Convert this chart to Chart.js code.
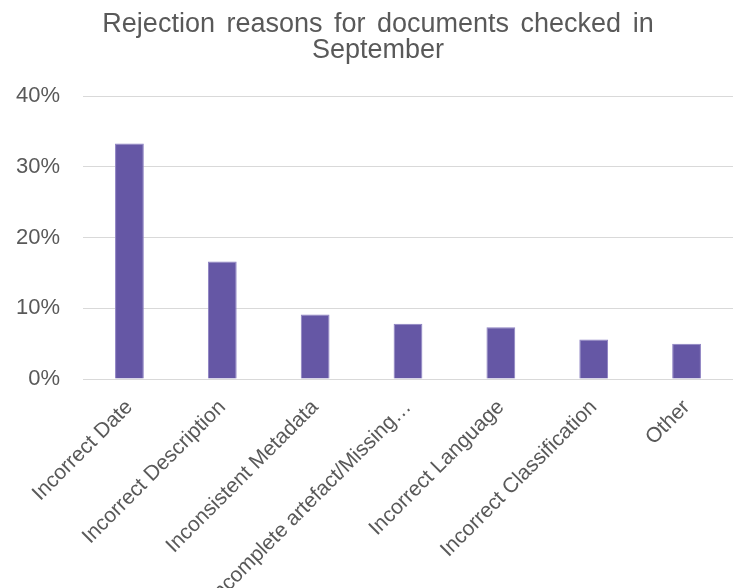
<!DOCTYPE html>
<html>
<head>
<meta charset="utf-8">
<script src="https://cdn.jsdelivr.net/npm/chart.js@4"></script>
<style>
  html, body { margin: 0; padding: 0; background: #fff; }
  #wrap { width: 733px; height: 588px; }
</style>
</head>
<body>
<div id="wrap"><canvas id="chart"></canvas></div>
<script>
// Rejection reasons, share of rejected documents
const titleLines = ['Rejection reasons for documents checked in', 'September'];
const categories = [
  'Incorrect Date',
  'Incorrect Description',
  'Inconsistent Metadata',
  'Incomplete artefact/Missing\u2026',
  'Incorrect Language',
  'Incorrect Classification',
  'Other'
];
const shares = [0.333, 0.166, 0.091, 0.078, 0.073, 0.056, 0.050];
const yTicks = [0, 0.1, 0.2, 0.3, 0.4];

const textGrey = '#595959';
const font = '"Liberation Sans", Arial, sans-serif';

// Excel-style title: slightly wide word gaps, wrapped onto two tight lines
const spacedTitle = {
  id: 'spacedTitle',
  afterDraw(chart) {
    const ctx = chart.ctx;
    ctx.save();
    ctx.font = '27px ' + font;
    ctx.fillStyle = textGrey;
    ctx.textAlign = 'center';
    ctx.textBaseline = 'alphabetic';
    ctx.wordSpacing = '4px';
    ctx.fillText(titleLines[0], 378, 32);
    ctx.fillText(titleLines[1], 378, 58);
    ctx.restore();
  }
};

// category labels at 45 degrees, right end sitting just under each tick
const slantLabels = {
  id: 'slantLabels',
  afterDraw(chart) {
    const ctx = chart.ctx;
    const x = chart.scales.x;
    ctx.save();
    ctx.font = '21px ' + font;
    ctx.fillStyle = textGrey;
    ctx.textAlign = 'right';
    ctx.textBaseline = 'middle';
    categories.forEach((label, i) => {
      const px = x.getPixelForValue(i);
      ctx.save();
      ctx.translate(px, x.top + 25);
      ctx.rotate(-Math.PI / 4);
      ctx.fillText(label, 0, 0);
      ctx.restore();
    });
    ctx.restore();
  }
};

new Chart(document.getElementById('chart'), {
  type: 'bar',
  data: {
    labels: categories,
    datasets: [{
      data: shares,
      backgroundColor: '#6557A5',
      borderColor: '#8C80C2',
      borderWidth: 1,
      categoryPercentage: 1,
      barPercentage: 0.31
    }]
  },
  options: {
    responsive: true,
    maintainAspectRatio: false,
    animation: false,
    layout: { padding: { left: 10, right: 0, top: 96, bottom: 0 } },
    plugins: {
      legend: { display: false },
      tooltip: { enabled: false },
      title: { display: false }
    },
    scales: {
      x: {
        grid: { display: false },
        border: { display: false },
        ticks: { display: false },
        afterFit(scale) { scale.height = 209; }
      },
      y: {
        min: 0,
        max: 0.4,
        afterBuildTicks(scale) {
          scale.ticks = yTicks.map(v => ({ value: v }));
        },
        grid: { color: '#D9D9D9', lineWidth: 1, drawTicks: false },
        border: { display: false },
        ticks: {
          color: textGrey,
          font: { family: font, size: 22 },
          padding: 23,
          callback: v => Math.round(v * 100) + '%'
        },
        afterFit(scale) { scale.width = 73; }
      }
    }
  },
  plugins: [spacedTitle, slantLabels]
});
</script>
</body>
</html>
